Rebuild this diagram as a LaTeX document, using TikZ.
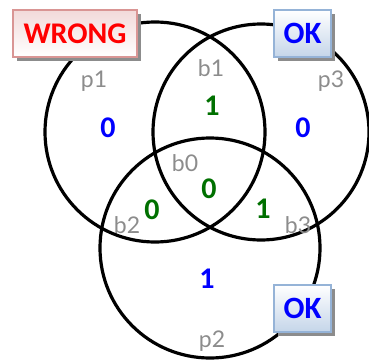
\documentclass[tikz,border=0pt]{standalone}
\usepackage{fontspec}
\setmainfont{Carlito}
\newfontfamily\lblfont{Lato}
\usetikzlibrary{shadows}
\definecolor{okblue}{HTML}{0000FF}
\definecolor{okgreen}{HTML}{007000}
\definecolor{lblgray}{HTML}{8C8C8C}
\definecolor{wrongred}{HTML}{FF0000}
\definecolor{wrongborder}{HTML}{D99594}
\definecolor{okborder}{HTML}{95B3D7}
\tikzset{
  ring/.style={draw=black, line width=3.2pt},
  setlbl/.style={text=lblgray, font=\lblfont\fontsize{23}{23}\selectfont, inner sep=0pt},
  bluenum/.style={text=okblue, font=\bfseries\fontsize{30}{30}\selectfont, inner sep=0pt},
  greennum/.style={text=okgreen, font=\bfseries\fontsize{30}{30}\selectfont, inner sep=0pt},
  wrongbox/.style={draw=wrongborder, line width=1.5pt, top color=wrongborder!35, bottom color=white,
    minimum width=124pt, minimum height=47pt, inner sep=0pt, text=wrongred,
    font=\bfseries\fontsize{30}{30}\selectfont,
    drop shadow={shadow xshift=4pt, shadow yshift=-4pt, fill=black!45, opacity=1}},
  okbox/.style={draw=okborder, line width=1.5pt, top color=white, bottom color=okborder!55,
    minimum width=57pt, minimum height=47pt, inner sep=0pt, text=okblue,
    font=\bfseries\fontsize{31}{31}\selectfont,
    drop shadow={shadow xshift=4pt, shadow yshift=-4pt, fill=black!45, opacity=1}},
}
\begin{document}
\begin{tikzpicture}[x=1pt, y=-1pt]
\useasboundingbox (0,0) rectangle (369,361);
% circles
\node[ring, circle, minimum size=220pt, inner sep=0pt] (c1) at (155,132) {};
\node[ring, circle, minimum size=216pt, inner sep=0pt] (c3) at (261,132) {};
\node[ring, circle, minimum size=220pt, inner sep=0pt] (c2) at (210,248) {};
% labels
\node[setlbl] (p1) at (94,81) {p1};
\node[setlbl] (b1) at (211,68) {b1};
\node[setlbl] (p3) at (331,81) {p3};
\node[setlbl] (b0) at (185,163) {b0};
\node[setlbl] (b2) at (127,225) {b2};
\node[setlbl] (b3) at (298,225) {b3};
\node[setlbl] (p2) at (212,341) {p2};
% numbers
\node[bluenum] (n1) at (108,128) {0};
\node[greennum] (n2) at (212,106) {1};
\node[bluenum] (n3) at (303,128) {0};
\node[greennum] (n4) at (209,189) {0};
\node[greennum] (n5) at (152,210) {0};
\node[greennum] (n6) at (263,209) {1};
\node[bluenum] (n7) at (207,279) {1};
% boxes
\node[wrongbox] (wrong) at (75,33.5) {WRONG};
\node[okbox] (ok1) at (302.5,33.5) {OK};
\node[okbox] (ok2) at (302.5,308.5) {OK};
\end{tikzpicture}
\end{document}
